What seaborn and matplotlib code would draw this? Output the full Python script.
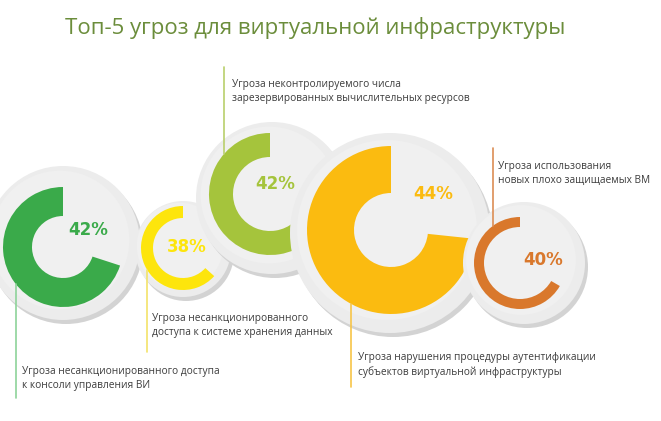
import numpy as np
import matplotlib.pyplot as plt
import seaborn as sns
from matplotlib.patches import Circle

sns.set_theme(style="white")
plt.rcParams['font.family'] = ['Open Sans', 'DejaVu Sans']

W, H = 661, 421

title = 'Топ-5 угроз для виртуальной инфраструктуры'
threats = [
    'Угроза несанкционированного доступа\nк консоли управления ВИ',
    'Угроза несанкционированного\nдоступа к системе хранения данных',
    'Угроза неконтролируемого числа\nзарезервированных вычислительных ресурсов',
    'Угроза нарушения процедуры аутентификации\nсубъектов виртуальной инфраструктуры',
    'Угроза использования\nновых плохо защищаемых ВМ',
]
shares = [42, 38, 42, 44, 40]
scale_max = 60  # the ring is full at 60%

colors = ['#3aaa4a', '#fde50c', '#a5c43c', '#fbbb10', '#d9782c']
line_colors = ['#8ed39a', '#f3e36a', '#b9cf6c', '#f7c548', '#dc8e55']

# layout, in pixels measured from the top left corner
ring_xy = [(63, 247), (183, 248), (270, 194), (391, 230), (520, 263)]
ring_r = [60, 42, 61, 84, 46]
ring_w = [29, 12, 24, 47, 10]
disc_xy = [(63, 243), (183, 249), (272, 198), (390, 233), (524, 263)]
disc_r = [77, 48, 76, 100, 61]
pct_xy = [(88, 230), (187, 247), (275, 184), (433, 194), (543, 260)]
line_x = [16, 147, 224, 351, 493]
line_end = [398, 352, 67, 387, 148]
label_xy = [(22, 366), (152, 313), (232, 79), (358, 352), (498, 161)]

fig = plt.figure(figsize=(W / 100, H / 100), dpi=100)
ax = fig.add_axes([0, 0, 1, 1])

for i, (label, v) in enumerate(zip(threats, shares)):
    z = 10 * (i + 1)
    dx, dy = disc_xy[i]
    cx, cy = ring_xy[i]
    r = ring_r[i]

    # grey disc with a soft shadow to the lower right
    ax.add_patch(Circle((dx + 3, H - dy - 4), disc_r[i], color='#d3d3d3', lw=0, zorder=z))
    ax.add_patch(Circle((dx, H - dy), disc_r[i], color='#ececec', lw=0, zorder=z + 1))
    ax.add_patch(Circle((dx - 3, H - dy + 3), disc_r[i] * 0.9, color='#f0f0f0', lw=0, zorder=z + 1))

    ax.pie([v, scale_max - v], colors=[colors[i], (0, 0, 0, 0)],
           center=(cx, H - cy), radius=r, startangle=90, counterclock=True,
           wedgeprops=dict(width=ring_w[i], linewidth=0, zorder=z + 2))

    px, py = pct_xy[i]
    ax.text(px, H - py, f'{v}%', ha='center', va='center', fontsize=12,
            fontweight='bold', family=['DejaVu Sans'],
            color=colors[i], zorder=z + 3)

    # leader line from the edge of the ring to the caption
    lx = line_x[i]
    off = np.sqrt(max(r ** 2 - (lx - cx) ** 2, 0))
    start = cy + off if line_end[i] > cy else cy - off
    ax.plot([lx, lx], [H - start, H - line_end[i]], color=line_colors[i],
            lw=1.2, zorder=100)

    tx, ty = label_xy[i]
    ax.text(tx, H - ty, label, ha='left', va='top', fontsize=7.3,
            color='#3c3c3c', linespacing=1.4, zorder=100)

ax.text(315, H - 28, title, ha='center', va='center', fontsize=16,
        color='#6b8d3b')

ax.set_xlim(0, W)
ax.set_ylim(0, H)
ax.set_aspect('equal')
ax.axis('off')

fig.savefig('out.png', dpi=100)
